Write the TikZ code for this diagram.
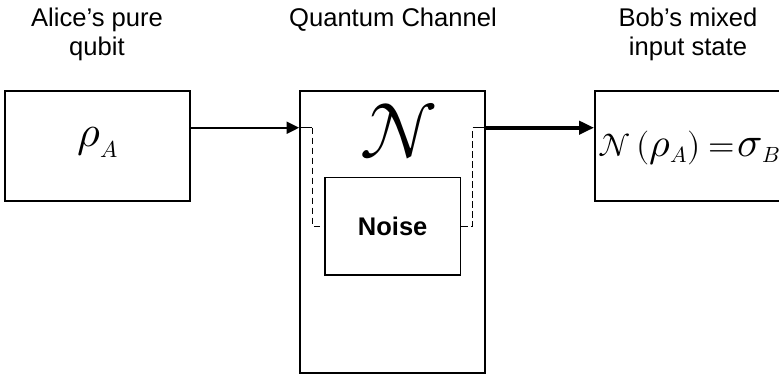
\documentclass[tikz,border=0pt]{standalone}
\usepackage{fontspec}
\usepackage{unicode-math}
\setmainfont{Liberation Sans}
\setmathfont{Latin Modern Math}
\usetikzlibrary{arrows.meta}
\newcommand{\fsz}[2]{\mbox{\fontsize{#1}{#1}\selectfont$#2$}}
\begin{document}
\begin{tikzpicture}[x=1pt,y=-1pt]
\tikzset{
 box/.style={draw, line width=1.7pt, minimum width=185pt, inner sep=0pt},
 lbl/.style={font=\fontsize{25.6}{28.3}\selectfont, align=center, inner sep=0pt},
 wire/.style={line width=1.8pt, -{Triangle[length=12.5pt,width=12pt]}},
 thickwire/.style={line width=4.3pt, -{Triangle[length=15pt,width=13pt]}},
 dashwire/.style={line width=1.2pt, dash pattern=on 6.5pt off 3.5pt},
 plainwire/.style={line width=1.2pt},
}
\clip (0,0) rectangle (779,375);
% boxes
\node[box, minimum height=110pt] (alice) at (97.5,146) {\smash{\fsz{44}{\rho}\raisebox{-11pt}{\fsz{23}{A}}}};
\node[box, minimum height=282pt] (chan) at (392.5,232) {};
\node[box, minimum width=135.5pt, minimum height=97.7pt, font=\bfseries\fontsize{25.5}{25.5}\selectfont] (noise) at (392.7,226.2) {Noise};
\node[box, minimum height=110pt] (bob) at (687.5,146) {\hspace{4pt}\raisebox{-10pt}[0pt][0pt]{\fsz{32}{\mathcal{N}}\hspace{5pt}\fsz{34}{(}\fsz{40}{\rho}\raisebox{-6pt}{\fsz{22}{A}}\fsz{34}{)}\hspace{8pt}\fsz{34}{=}\hspace{3pt}\fsz{42}{\sigma}\raisebox{-6pt}{\fsz{22}{B}}}};
\node[inner sep=0pt] (chn) at (399,131.7) {\fsz{78}{\mathcal{N}}};
% labels
\node[lbl, anchor=base] (la) at (97,55) {Alice’s pure\\qubit};
\node[lbl, anchor=base] (lq) at (393,26.7) {Quantum Channel};
\node[lbl, anchor=base] (lb) at (688,55) {Bob’s mixed\\input state};
% connectors
\coordinate (port) at (0,127.7);
\coordinate (lk) at (312.3,127.7);
\coordinate (rk) at (472.7,127.7);
\draw[wire] (alice.east |- port) -- (chan.west |- port);
\draw[plainwire] (chan.west |- port) -- (lk);
\draw[dashwire] (lk) |- (noise.west);
\draw[dashwire] (noise.east) -| (rk);
\draw[plainwire] (rk) -- (chan.east |- port);
\draw[thickwire] (chan.east |- port) -- (bob.west |- port);
\end{tikzpicture}
\end{document}
